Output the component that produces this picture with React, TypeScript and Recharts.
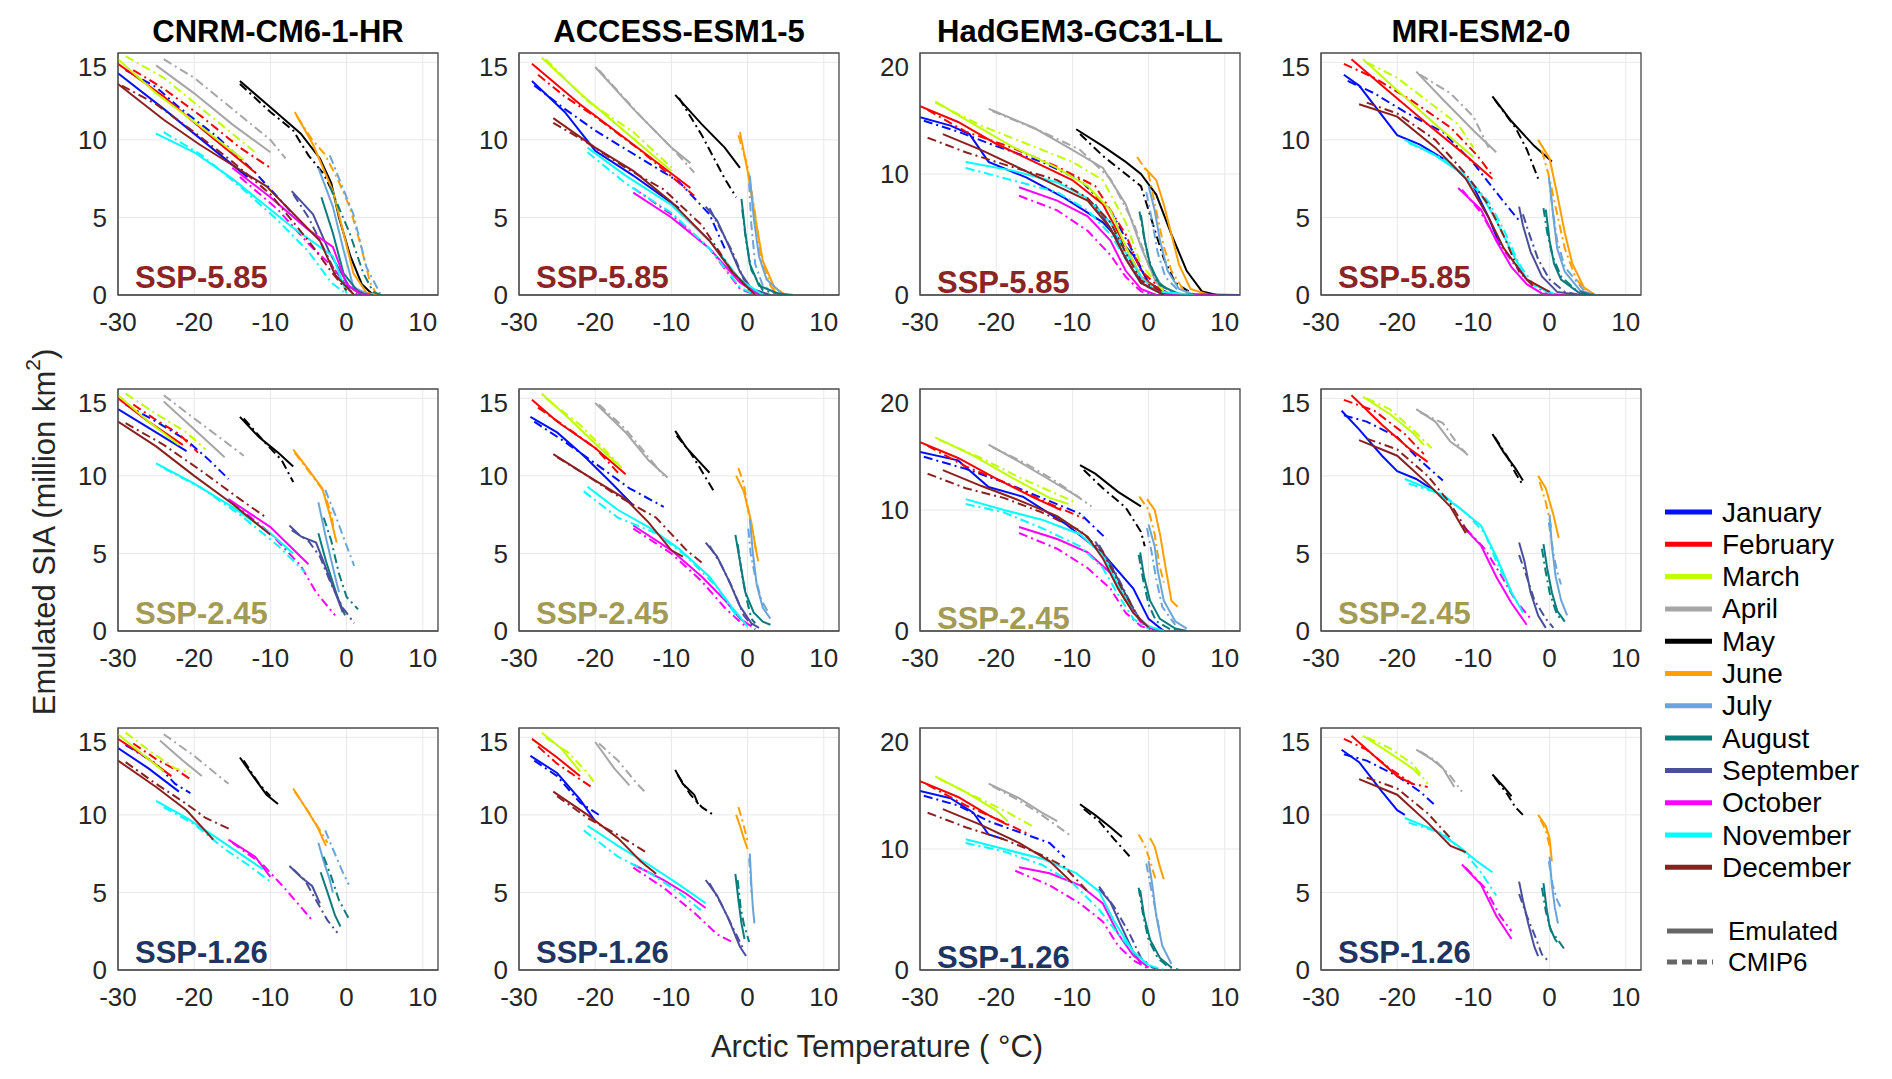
import { CartesianGrid, Line, LineChart, ReferenceArea, XAxis, YAxis } from "recharts"

// months, colours
const MONTHS = ["January", "February", "March", "April", "May", "June", "July", "August", "September", "October", "November", "December"]
const MONTH_COLORS = ["#0010ff", "#ff0000", "#bfff00", "#a6a6a6", "#000000", "#ffa000", "#6aa5d9", "#0b7b7b", "#4a4f9c", "#ff00ff", "#00ffff", "#8b2020"]

const MODELS = ["CNRM-CM6-1-HR", "ACCESS-ESM1-5", "HadGEM3-GC31-LL", "MRI-ESM2-0"]
const SCENARIOS = ["SSP-5.85", "SSP-2.45", "SSP-1.26"]
const SCENARIO_COLORS = ["#8b2525", "#a39a55", "#1f3561"]

const X_TICKS = [-30, -20, -10, 0, 10]
const Y_TICKS = [0, 5, 10, 15]
const Y_TICKS_HAD = [0, 10, 20]

// each curve: [Arctic temperature (°C), SIA (million km²)], months Jan..Dec
const cnrm585Emu = [
  [[-30, 14.3], [-24, 12], [-19, 10], [-13, 7.6]],
  [[-30, 14.9], [-24, 12.8], [-18, 10.3], [-12, 7.9]],
  [[-30, 15.2], [-25, 13], [-19, 10.8], [-13.5, 8.7]],
  [[-25, 14.8], [-20, 13], [-15, 11], [-10, 9.2]],
  [[-14, 13.8], [-10, 12.1], [-6, 10.4], [-3.5, 8.8], [-2, 7.2], [-1, 5], [0.5, 2.5], [2, 0.7], [3.5, 0]],
  [[-6.8, 11.8], [-4.4, 9.7], [-1.8, 6.7], [-0.4, 4], [0.9, 1.4], [2.6, 0.15], [4, 0]],
  [[-3.7, 8.2], [-1.8, 5.7], [-0.4, 2.9], [0.9, 0.5], [3, 0]],
  [[-3.3, 6.3], [-1.8, 4], [-0.4, 1.4], [1.7, 0.1], [3.5, 0]],
  [[-7.2, 6.7], [-4.4, 5.2], [-2.2, 2.7], [0.4, 0.5], [2.6, 0]],
  [[-15, 8.2], [-10, 6.3], [-5, 4.2], [-1.8, 3.1], [0, 0.7], [1.7, 0.1], [3, 0]],
  [[-25, 10.4], [-20, 9.2], [-15, 7.5], [-7.2, 4.4], [-1.8, 2.5], [0, 0.1]],
  [[-30, 13.6], [-24, 11.3], [-19.3, 9.7], [-10.5, 7], [-3.5, 3.5], [-1.5, 1.3], [1, 0]],
]
const cnrm585Cmip = [
  [[-29, 14.5], [-25, 13.4], [-22, 12.1], [-17, 10.2], [-12, 7.9], [-7, 5.2]],
  [[-28, 14.5], [-24, 13.3], [-19, 11.5], [-14, 9.5], [-10, 8.2]],
  [[-29, 15.4], [-24, 14], [-19, 12], [-14, 10], [-12, 9.2]],
  [[-24, 15.2], [-20, 14], [-15, 12], [-10, 10], [-8, 8.8]],
  [[-14, 13.6], [-10, 11.8], [-7, 10.6], [-5, 9], [-3, 7.8], [-2, 6.8]],
  [[-6.5, 11.5], [-4.5, 10], [-2.9, 9.1], [-1.2, 7.5], [0.4, 5.7], [1.7, 3.5], [3.1, 0.8], [4, 0]],
  [[-2.2, 9], [0.9, 5.2], [2.6, 1.8], [4.4, 0.1]],
  [[-2.2, 7], [0.4, 4], [2.2, 1.4], [3.5, 0.2], [4.5, 0]],
  [[-7, 6.5], [-5, 5], [-3, 3], [-1, 1], [2, 0]],
  [[-14, 7.6], [-9, 5.5], [-5, 3.3], [-1.8, 1.8], [0.4, 0.3], [1.5, 0]],
  [[-24, 10.5], [-19, 9], [-14, 7], [-9, 4.8], [-5, 2.8], [-2, 0.8], [-0.4, 0.2]],
  [[-29.5, 13.5], [-25, 12.3], [-20, 10.5], [-15, 8.6], [-10, 6.5], [-5, 3.5], [-2, 1.5], [0, 0.3]],
]

const access585Emu = [
  [[-28.3, 13.8], [-24, 11.8], [-20, 9.3], [-15, 7.7], [-9, 5.6]],
  [[-28.3, 14.9], [-22, 12.3], [-15, 9.7], [-7.5, 6.9]],
  [[-27, 15.3], [-22, 13], [-16, 10.5], [-10, 8]],
  [[-20, 14.7], [-15, 12], [-10, 9.5], [-7.5, 8.5]],
  [[-9.5, 12.9], [-6, 11], [-3, 9.5], [-1, 8.2]],
  [[-1, 10.5], [0, 8], [1, 5], [2, 2.2], [3.5, 0.5], [5, 0]],
  [[0.3, 7.7], [0.8, 5], [1.5, 2.5], [2.5, 1], [4.5, 0.1]],
  [[-0.8, 6.2], [-0.3, 4], [0.3, 2], [1.5, 0.6], [4, 0.1], [6, 0]],
  [[-5.5, 5.7], [-4, 4.8], [-2.5, 3.2], [-1, 1.5], [0.5, 0.4], [3, 0]],
  [[-15, 6.6], [-10, 5], [-5, 3], [-1, 0.8], [1.5, 0]],
  [[-21, 9.5], [-16, 7.7], [-10, 5.8], [-5, 3.5], [-1, 1], [2, 0]],
  [[-25.5, 11.4], [-20, 9.5], [-15, 8], [-10, 6], [-5, 3.5], [-2, 1.5], [1, 0]],
]
const access585Cmip = [
  [[-28, 13.5], [-24, 12], [-20, 10.6], [-14, 8.8], [-9, 7.3], [-5, 5.2], [-3, 3]],
  [[-27.5, 14.2], [-24, 12.8], [-20, 11.5], [-14, 9.3], [-7, 6.4]],
  [[-26.5, 15.2], [-21, 12.5], [-15, 10.5], [-9.5, 8]],
  [[-19.5, 14.5], [-14, 11.5], [-10, 9.5], [-7, 7.9]],
  [[-9, 12.7], [-6, 10.3], [-3, 7.5], [-1.5, 6.3]],
  [[-1.2, 10.3], [0, 8.3], [1, 5.2], [1.7, 2.5], [3, 0.6], [4, 0]],
  [[0.2, 7.2], [0.5, 4.5], [1, 2], [2, 0.6], [4, 0]],
  [[-0.7, 5.5], [-0.2, 3.5], [0.5, 1.6], [2, 0.3], [5, 0]],
  [[-5, 5.6], [-3.5, 4.2], [-2, 2.8], [-0.5, 1], [1, 0.2], [2, 0]],
  [[-15, 6.9], [-10, 5.2], [-5, 3], [-1, 0.4], [1, 0]],
  [[-21, 9.2], [-16, 7.2], [-10, 5.3], [-5, 3], [-1, 0.5], [1, 0]],
  [[-25.5, 11.1], [-21, 9.8], [-16, 8.2], [-11, 6.8], [-6, 4.5], [-2, 1.5], [0.5, 0.2]],
]

const had585Emu = [
  [[-30, 14.7], [-26, 14], [-23.5, 13.3], [-21, 11], [-16, 9.7], [-11, 8], [-6, 6], [-2, 3.3], [0, 1], [3, 0]],
  [[-30, 15.6], [-25, 14.3], [-20, 12.5], [-15, 11], [-10, 9.5], [-6, 7.5], [-3, 4], [-1, 1.5], [2, 0.2], [5, 0]],
  [[-28, 16], [-24, 14.5], [-18, 12.3], [-12, 10.5], [-8, 9], [-5, 7], [-3, 4], [-1, 1.5], [1, 0.3], [4, 0]],
  [[-21, 15.4], [-15, 13.8], [-10, 12], [-6, 10.5], [-3, 7.5], [-1, 4], [1, 1], [4, 0]],
  [[-9.5, 13.7], [-6, 12.3], [-3, 11], [-1, 10], [1, 8.3], [3, 5], [5, 2], [7, 0.3], [9, 0]],
  [[-0.5, 10.5], [1, 9.5], [2, 7.5], [3, 5], [4, 2.5], [5.5, 0.5], [8, 0]],
  [[0, 9], [0.8, 7], [1.5, 4.5], [2.5, 2], [4, 0.5], [6, 0]],
  [[-1, 6.6], [-0.5, 4.5], [0.2, 2.5], [1.5, 0.8], [4, 0.1], [6, 0]],
  [[-7, 7.5], [-5, 5.5], [-3, 3], [-1, 1], [2, 0.1], [12, 0]],
  [[-17, 8.9], [-12, 7.8], [-8, 6.5], [-5, 4.5], [-3, 2], [-1, 0.5], [1, 0], [9, 0]],
  [[-24, 11], [-18, 10.3], [-12, 9.3], [-8, 8], [-5, 6], [-3, 3.5], [-1, 1.5], [1, 0.3], [6, 0]],
  [[-27, 13.3], [-22, 12], [-17, 10.5], [-12, 9], [-8, 7.8], [-5, 5.5], [-3, 3], [-1, 1], [2, 0]],
]
const had585Cmip = [
  [[-29.5, 14.4], [-25, 13.5], [-20, 12.3], [-14, 11], [-9, 9.5], [-5, 7], [-2, 3.5], [0, 1], [3, 0]],
  [[-29, 15.3], [-24, 13.5], [-18, 12.2], [-12, 10.6], [-7, 9], [-3, 5], [-1, 2], [2, 0.3]],
  [[-28, 15.9], [-22, 14], [-16, 12.5], [-10, 11], [-6, 9.5], [-3, 6], [-1, 2.5], [2, 0.3]],
  [[-20.5, 15.2], [-14, 13.5], [-9, 12], [-5, 9.6], [-2, 6], [0, 2.5], [2, 0.5]],
  [[-9, 13.3], [-6, 11.5], [-3, 10], [-1, 9], [0.5, 6], [2, 3], [3.5, 1], [6, 0]],
  [[-1.5, 11.4], [0, 10], [1, 7], [2, 4], [3, 2], [4.5, 0.5], [6, 0]],
  [[-0.3, 8.5], [0.5, 6], [1.2, 3.5], [2.2, 1.5], [4, 0.3]],
  [[-1.2, 6.9], [-0.6, 4.8], [0, 3], [1, 1.2], [3, 0.2]],
  [[-7, 7.3], [-4.5, 5], [-2.5, 2.5], [-0.5, 0.8], [2, 0]],
  [[-17, 8.2], [-12, 7], [-8, 5.3], [-5, 3.3], [-3, 1.5], [-1, 0.3], [1, 0]],
  [[-24, 10.5], [-18, 9.5], [-12, 8.5], [-8, 7], [-5, 5], [-3, 3], [-1, 1], [2, 0]],
  [[-29, 13], [-24, 11.8], [-18, 10.6], [-12, 9.5], [-8, 8], [-5, 6], [-3, 3.5], [-1, 1.2], [2, 0.2]],
]

const mri585Emu = [
  [[-27, 14.2], [-25, 13.5], [-20, 10.3], [-17, 9.7], [-13, 8.5], [-10, 7], [-8, 5], [-6.5, 3.2]],
  [[-26, 15.2], [-22, 13.5], [-16, 11], [-11, 9], [-7.5, 7.5]],
  [[-24.5, 15.2], [-20, 13.2], [-15, 11], [-10, 8.9]],
  [[-17.5, 14.4], [-14, 12.6], [-10, 10.6], [-7, 9.2]],
  [[-7.5, 12.8], [-5, 11.2], [-2, 9.6], [0.3, 8.6]],
  [[-1.5, 10], [0, 8.8], [1, 6.5], [2, 4], [3, 2], [4.5, 0.5], [6, 0]],
  [[0, 7.3], [0.5, 5], [1, 3], [2, 1.5], [4, 0.3], [6, 0]],
  [[-0.5, 5.5], [0, 3.5], [0.6, 2], [1.5, 1], [4, 0.1], [6, 0]],
  [[-4, 5.7], [-3.5, 4.5], [-2.5, 2.8], [-1, 1.2], [1, 0.2], [4, 0]],
  [[-12, 6.9], [-9, 5.5], [-7, 3.5], [-5, 1.8], [-3, 0.7], [-1, 0.1], [2, 0]],
  [[-19, 10], [-15, 9], [-12, 8], [-9, 6.5], [-7, 4.8], [-5, 2.8], [-3, 1], [0, 0.1]],
  [[-25, 12.3], [-20, 11.5], [-15, 9.5], [-11, 7.5], [-8, 5], [-6, 3], [-3, 1], [0, 0.2]],
]
const mri585Cmip = [
  [[-26.5, 13.8], [-23, 13], [-19, 11.8], [-14, 10.5], [-10, 8.5], [-6, 6], [-4, 4.8]],
  [[-27, 14.9], [-23, 14], [-18, 12.5], [-13, 10.8], [-9.5, 9], [-7.5, 7.7]],
  [[-24, 15], [-20, 14], [-16, 12.5], [-12, 11], [-10, 9.5]],
  [[-17, 14.2], [-13, 13], [-10, 11.5], [-8, 9.5]],
  [[-7.2, 12.6], [-4.5, 10.8], [-3, 9.4], [-1.5, 7.5]],
  [[-1, 9.3], [0, 7.5], [1, 5.2], [2, 3], [3.5, 1], [5, 0.2]],
  [[-0.1, 7.6], [0.4, 5.5], [1, 3.5], [2, 1.8], [4.5, 0.3]],
  [[-0.8, 5.6], [-0.3, 4], [0.4, 2.5], [1.5, 1.2], [3.5, 0.3], [5.5, 0]],
  [[-3.5, 5.2], [-2.5, 3.7], [-1.5, 2.3], [0, 1], [2, 0.2], [4, 0]],
  [[-11.5, 6.8], [-9, 5.3], [-7, 3.6], [-5, 2.2], [-3, 1], [-1, 0.3], [1, 0]],
  [[-18.5, 9.8], [-14, 8.8], [-11, 7.7], [-8, 6], [-6, 4.2], [-4, 2], [-2, 0.6], [1, 0]],
  [[-24, 12.4], [-20, 11.7], [-15, 10], [-11, 7.8], [-8, 5.8], [-6, 3.8], [-4, 1.5], [-2, 0.5]],
]

const cnrm245Emu = [
  [[-30, 14.3], [-25, 12.8], [-21, 11.6]],
  [[-30, 15], [-26, 13.5], [-21.5, 12]],
  [[-30, 15.2], [-26, 13.5], [-22, 12]],
  [[-24, 14.8], [-20, 13], [-16, 11.2]],
  [[-14, 13.8], [-11.5, 12.5], [-9, 11.5], [-7, 10.6]],
  [[-7, 11.7], [-5, 10.4], [-3.2, 9.2], [-2.2, 7.5], [-1.3, 5.7]],
  [[-3.7, 8.3], [-2.7, 6], [-1.5, 3.5], [-1, 2.5]],
  [[-3.7, 6.3], [-2.7, 4.5], [-1.2, 2.2], [-0.2, 1]],
  [[-7.5, 6.8], [-6, 6.1], [-4, 5.7], [-2.5, 3.8], [-1.5, 2.5], [-0.5, 1.2]],
  [[-15.5, 8.5], [-10, 6.7], [-5, 4.3]],
  [[-25, 10.8], [-20, 9.5], [-15, 8], [-10, 6.3], [-7, 5]],
  [[-30, 13.5], [-25, 11.9], [-20, 10], [-15, 8.2], [-10, 6.2]],
]
const cnrm245Cmip = [
  [[-29, 14.6], [-25, 13.5], [-21, 12.3], [-18, 11], [-15.5, 9.8]],
  [[-28, 14.6], [-25, 13.6], [-22, 12.7], [-19.5, 11.5]],
  [[-29, 15.3], [-25, 14], [-21, 12.8], [-18.5, 11.7]],
  [[-24, 15.2], [-20, 13.7], [-17, 12.6], [-13.5, 11.3]],
  [[-13.5, 13.7], [-11, 12.3], [-8.5, 11], [-7, 9.6]],
  [[-6.8, 11.5], [-4.5, 10], [-3, 9], [-2, 7.5], [-1.5, 6]],
  [[-2.8, 9.1], [-1.5, 7.5], [0, 5.5], [1, 4.2]],
  [[-3, 7.3], [-2, 5.8], [-1, 3.7], [0, 2.2], [1.5, 1.4]],
  [[-7.2, 6.5], [-5, 5.8], [-3.5, 4.8], [-2, 3], [-0.5, 1.5], [1, 0.5]],
  [[-15, 8.3], [-10, 6.3], [-6, 4.2], [-4, 2.5], [-1.5, 1]],
  [[-24, 10.5], [-19, 9.2], [-14, 7.5], [-9, 5.5], [-5.5, 3.8]],
  [[-29, 13.4], [-24, 12], [-19, 10.3], [-14, 8.5], [-10.5, 7.3]],
]

const access245Emu = [
  [[-28.5, 13.8], [-25, 12.8], [-21.5, 11.3], [-18, 9.6], [-15, 8.1]],
  [[-28.3, 14.9], [-25, 13.5], [-20, 11.8], [-16, 10.1]],
  [[-27, 15.3], [-23, 13.5], [-19, 11.6], [-16.5, 10.5]],
  [[-20, 14.7], [-16, 12.8], [-13, 11], [-10.5, 9.9]],
  [[-9.5, 12.9], [-8, 11.8], [-6.5, 11], [-5, 10.2]],
  [[-1.5, 10], [-0.5, 9], [0.5, 7], [1, 5.5], [1.4, 4.5]],
  [[0.3, 7.2], [0.7, 5], [1.2, 3], [2, 1.5], [3, 0.8]],
  [[-1.6, 6.2], [-1, 4.5], [-0.3, 2.5], [0.8, 1.2], [2, 0.6], [3, 0.4]],
  [[-5.5, 5.7], [-4, 4.8], [-2.5, 3.3], [-1, 1.6], [0.5, 0.5], [1.5, 0.2]],
  [[-15, 6.8], [-10, 5.2], [-6, 3.5], [-3, 2], [-1, 0.8], [0.5, 0.3]],
  [[-21, 9.3], [-17, 7.8], [-13, 6.7], [-9, 5.3], [-5, 3.5], [-2, 1.5], [0, 0.3]],
  [[-25.5, 11.4], [-21, 10], [-16, 8.5], [-13, 7], [-10, 5.2], [-8.5, 4.8]],
]
const access245Cmip = [
  [[-28, 13.5], [-24, 12.2], [-20, 10.8], [-15.5, 9.2], [-11, 8]],
  [[-27.5, 14.4], [-24, 13.2], [-20, 11.8], [-17, 10.2]],
  [[-26.5, 15], [-22, 13.3], [-19, 11.8], [-17, 10.8]],
  [[-19.5, 14.6], [-16, 13], [-13.5, 11.5], [-11, 10]],
  [[-9.3, 12.6], [-7.5, 11.5], [-6, 10.3], [-4.3, 8.9]],
  [[-1.2, 10.5], [-0.5, 9.5], [0, 8], [0.8, 6], [1.2, 5]],
  [[0.1, 6.6], [0.4, 5], [1, 3.5], [1.8, 2], [2.6, 1.3]],
  [[-1.3, 5.6], [-0.7, 3.5], [0, 1.8], [0.5, 0.8], [1, 0.5]],
  [[-5, 5.5], [-3.5, 4.3], [-2, 2.8], [-0.5, 1], [1, 0.1]],
  [[-15, 6.6], [-10, 5], [-6, 3.2], [-3, 1.5], [-1, 0.6], [0, 0.2]],
  [[-21.5, 9], [-17, 7.3], [-12, 6.3], [-8, 4.8], [-4, 2.8], [-1.5, 1]],
  [[-25, 11.2], [-21, 10], [-17, 8.7], [-12, 7.3], [-8, 5.2], [-6, 4.4]],
]

const had245Emu = [
  [[-30, 14.8], [-25, 14.1], [-21, 11.9], [-16.5, 11.1], [-11, 8.9], [-6, 6.4], [-2, 3.5], [0, 1], [2, 0]],
  [[-30, 15.6], [-25, 14.3], [-20, 12.6], [-15, 11], [-11.5, 10]],
  [[-28, 16], [-23, 14.5], [-18, 12.7], [-13, 11], [-10.5, 10.5]],
  [[-21, 15.4], [-17, 14], [-13, 12.5], [-9, 11]],
  [[-9, 13.7], [-7, 13], [-4, 11.5], [-1, 10.3]],
  [[-0.2, 10.9], [0.8, 10], [1.5, 8], [2.3, 5], [3, 2.5], [3.8, 2]],
  [[0, 8.8], [0.8, 7], [1.2, 5], [2, 2.5], [3.5, 0.8], [5, 0.2]],
  [[-1.1, 6.5], [-0.6, 4.5], [0.2, 2.5], [1.5, 1], [3.5, 0.2], [5, 0]],
  [[-7, 7.4], [-5, 5.5], [-3, 3], [-1.5, 1.2], [0, 0.3], [2, 0]],
  [[-17, 8.6], [-12, 7.6], [-8, 6.5], [-5, 4.8], [-3, 2.5], [-1, 0.7], [1, 0.1]],
  [[-24, 10.9], [-19, 10], [-14, 9.2], [-9, 8], [-6, 6.3], [-4, 3.8], [-2, 1.5], [0, 0.4], [2, 0]],
  [[-27, 13.3], [-22, 12], [-17, 10.8], [-12, 9.5], [-8, 7.8], [-6, 6], [-4, 3.5], [-2, 1.5], [0, 0.3]],
]
const had245Cmip = [
  [[-29.5, 14.4], [-24, 13.4], [-19, 12.3], [-14, 11], [-9, 9.7], [-5.5, 7.6]],
  [[-29, 15.3], [-24, 13.6], [-19, 12.3], [-14, 10.8], [-8.5, 9.3]],
  [[-27.5, 15.8], [-22, 14.3], [-17, 12.7], [-12, 11.3], [-9.5, 10.6]],
  [[-20.5, 15.2], [-16, 13.8], [-12, 12.3], [-7.5, 10.3]],
  [[-8.5, 13.3], [-6, 11.8], [-3, 10.2], [-1, 8.2], [-0.5, 7]],
  [[-1.2, 11.1], [0, 10], [0.8, 8], [1.4, 5.5], [2, 4]],
  [[-0.2, 8.5], [0.4, 6.5], [1, 4.3], [1.8, 2], [3.5, 0.5]],
  [[-1.3, 6.3], [-0.7, 4.2], [0, 2.2], [1, 0.8], [3, 0.1], [5, 0]],
  [[-6.5, 7.1], [-4.5, 5], [-2.5, 2.5], [-1, 0.7], [1, 0]],
  [[-17, 8.1], [-12, 6.8], [-8, 5.2], [-5, 3.5], [-3, 1.5], [-1, 0.4], [1, 0]],
  [[-24, 10.5], [-19, 9.8], [-14, 8.5], [-9, 7], [-6, 5.2], [-4, 3], [-2, 1], [0, 0.2]],
  [[-29, 13], [-24, 11.8], [-19, 11], [-14, 9.8], [-9, 8.3], [-6, 6.5], [-3.5, 3.5], [-1, 0.8]],
]

const mri245Emu = [
  [[-27.3, 14.2], [-25, 13], [-22, 11.3], [-20, 10.3], [-17.5, 9.8], [-15, 9]],
  [[-26, 15.2], [-22, 13.3], [-18.5, 11.8], [-16, 10.9]],
  [[-24.5, 15.1], [-21, 14], [-18, 12.8], [-16.5, 12]],
  [[-17.5, 14.3], [-15, 13.5], [-13, 12.2], [-11, 11.5]],
  [[-7.5, 12.7], [-6, 11.5], [-4.5, 10.5], [-3.5, 9.7]],
  [[-1.5, 10], [-0.5, 9.2], [0.5, 7.5], [1.2, 6]],
  [[0, 7.5], [0.3, 5.5], [0.8, 3.5], [1.5, 2], [2.3, 1]],
  [[-0.8, 5.6], [-0.3, 4], [0.3, 2.5], [1, 1.3], [2, 0.6]],
  [[-4, 5.7], [-3.3, 4.5], [-2.5, 2.5], [-1.5, 1], [-0.5, 0.2]],
  [[-11.5, 6.8], [-9, 5.5], [-7, 3.5], [-5, 1.8], [-3, 0.4]],
  [[-19, 9.8], [-15, 9], [-12, 8], [-9, 6.8], [-7, 4.8], [-5, 2.5], [-3.5, 1.2]],
  [[-25, 12.3], [-20, 11.3], [-16, 9.5], [-13, 8], [-11, 6.3]],
]
const mri245Cmip = [
  [[-27, 13.9], [-24, 13.5], [-20, 12.5], [-17, 11], [-14, 9.7]],
  [[-27, 14.9], [-23, 14.2], [-19, 12.7], [-16.5, 11.4]],
  [[-24, 15], [-21, 14.3], [-18, 13], [-15.5, 11.8]],
  [[-17, 14.1], [-14, 13.4], [-12, 12], [-10.5, 11.2]],
  [[-7.2, 12.5], [-5.5, 11.2], [-4.5, 10.2], [-3.5, 9.4]],
  [[-1.3, 9.6], [-0.5, 8.3], [0.3, 6.5]],
  [[-0.1, 7], [0.5, 5], [1, 3.8], [1.5, 3]],
  [[-1, 5.3], [-0.5, 3.8], [0, 2.5], [1, 1], [1.8, 0.7]],
  [[-4, 4.9], [-3, 3.5], [-2, 2], [-0.5, 0.8], [0.5, 0.2]],
  [[-11, 6.6], [-8.5, 5.3], [-6.5, 3.7], [-4.5, 2], [-2.5, 0.8]],
  [[-18.5, 9.5], [-14, 8.8], [-11, 7.6], [-8.5, 6.3], [-7, 4.5], [-5, 2.5]],
  [[-24, 12.4], [-20, 11.7], [-16, 10], [-13, 8.2], [-10.5, 6.2]],
]

const cnrm126Emu = [
  [[-30, 14.3], [-26, 13], [-22, 11.5]],
  [[-30, 14.9], [-26, 13.6], [-23, 12.5]],
  [[-30, 15.2], [-26.5, 13.8], [-24, 12.8]],
  [[-24.5, 14.8], [-21.5, 13.5], [-19, 12.5]],
  [[-14, 13.7], [-12, 12.3], [-10.5, 11.3], [-9, 10.7]],
  [[-7, 11.7], [-5.3, 10.4], [-3.8, 9.2], [-2.7, 8]],
  [[-3.7, 8.2], [-3, 7], [-2.2, 5.8], [-1.8, 5]],
  [[-3.4, 6.3], [-2.5, 5], [-1.5, 3.5], [-0.8, 2.8]],
  [[-7.5, 6.7], [-6, 6], [-4.5, 5.4], [-3.5, 4.3]],
  [[-15.5, 8.4], [-12, 7.3], [-10, 6]],
  [[-25, 10.9], [-21, 9.8], [-17, 8.5], [-14, 7.5], [-11, 6.5]],
  [[-30, 13.5], [-25, 11.8], [-21, 10.3], [-17.5, 8.4]],
]
const cnrm126Cmip = [
  [[-29, 14.5], [-25, 13.3], [-22.5, 12], [-20.5, 11.4]],
  [[-28, 14.6], [-25, 13.6], [-22, 12.8], [-20.5, 12.3]],
  [[-29, 15.3], [-25.5, 14], [-22.5, 13], [-20.5, 12.7]],
  [[-24, 15.2], [-20, 13.8], [-17.5, 12.8], [-15.5, 12]],
  [[-13.5, 13.5], [-11.5, 12], [-10, 11.2]],
  [[-6.8, 11.5], [-5, 10.2], [-3.5, 9], [-2.5, 8.2]],
  [[-2.8, 9], [-1.8, 7.8], [-0.5, 6.3], [0.3, 5.5]],
  [[-3, 7.3], [-2, 6], [-1, 4.5], [0.3, 3.3]],
  [[-7, 6.5], [-5.5, 5.8], [-4, 4.5], [-2.5, 3.2], [-1.2, 2.4]],
  [[-15, 8.2], [-11, 6.8], [-8, 5.2], [-4.5, 3.2]],
  [[-24, 10.5], [-20, 9.4], [-16, 7.8], [-13, 6.8], [-10, 5.7]],
  [[-29, 13.4], [-25, 12], [-21, 10.7], [-18.5, 9.8], [-15, 9]],
]

const access126Emu = [
  [[-28.5, 13.8], [-25, 12.7], [-22, 11], [-20, 9.6]],
  [[-28.3, 14.9], [-25, 13.7], [-22, 12.5]],
  [[-27, 15.3], [-24.5, 14.3], [-22, 12.8]],
  [[-20, 14.7], [-17.5, 13], [-15.5, 11.9]],
  [[-9.5, 12.9], [-8.5, 12], [-7, 11.3], [-6.5, 10.7]],
  [[-1.5, 10], [-1, 9.3], [-0.5, 8.5], [0, 7.8]],
  [[0.3, 7.5], [0.5, 5.5], [0.7, 4], [0.9, 3]],
  [[-1.6, 6.2], [-1.2, 4.5], [-0.8, 3], [-0.4, 2]],
  [[-5.5, 5.8], [-4, 4.8], [-2.5, 3.3], [-1, 1.5], [-0.2, 0.9]],
  [[-15, 6.8], [-11, 5.8], [-8, 4.9], [-5.5, 4]],
  [[-21, 9.3], [-17, 8], [-13, 6.8], [-9, 5.5], [-5.5, 4.3]],
  [[-25.5, 11.5], [-21, 10], [-17, 8.5], [-14, 7], [-12, 6.2]],
]
const access126Cmip = [
  [[-28, 13.5], [-25, 12.5], [-22, 10.8], [-19.5, 10]],
  [[-27.5, 14.4], [-25, 13.3], [-22, 12.3], [-20.5, 11.8]],
  [[-26.5, 15], [-23.5, 14], [-21, 12.7], [-20, 12]],
  [[-19.5, 14.6], [-17, 13.5], [-14.5, 12], [-13.5, 11.5]],
  [[-9.2, 12.6], [-7.5, 11.3], [-6, 10.5], [-4.5, 10]],
  [[-1.2, 10.5], [-0.6, 9.5], [0, 8.3]],
  [[0.2, 7.2], [0.4, 6], [0.5, 5]],
  [[-1.3, 5.8], [-0.9, 4], [-0.5, 3], [0.2, 1.8]],
  [[-5, 5.6], [-3.5, 4.3], [-2, 2.8], [-0.5, 1.3]],
  [[-15, 6.6], [-11, 5.3], [-7, 3.7], [-4, 2.3], [-2, 1.8]],
  [[-21.5, 9], [-17, 7.3], [-13, 6.3], [-9, 5], [-6, 3.8]],
  [[-25, 11.2], [-21, 9.8], [-17, 8.7], [-13, 7.5]],
]

const had126Emu = [
  [[-30, 14.8], [-26, 14.2], [-23, 13], [-21, 11.2], [-19, 10.8]],
  [[-30, 15.6], [-25, 14.3], [-21, 12.8], [-18.5, 12]],
  [[-28, 16], [-24, 14.7], [-20, 13.2], [-18.5, 12.3]],
  [[-21, 15.4], [-17, 14.2], [-14, 13], [-12, 12.3]],
  [[-9, 13.7], [-7, 12.8], [-5, 11.8], [-3.5, 11]],
  [[0.2, 10.9], [0.8, 10.2], [1.5, 8.5], [2, 7.5]],
  [[0, 9], [0.5, 7], [1, 4.5], [1.8, 2], [3, 0.5]],
  [[-1.1, 6.6], [-0.6, 4.5], [0.2, 2.5], [1.5, 1], [3, 0.2]],
  [[-6.5, 6.7], [-5, 5.6], [-3.5, 3.5], [-2, 1.5], [-1, 0.5]],
  [[-17, 8.5], [-13, 8], [-9, 7], [-6, 5.5], [-4, 3], [-2, 1.2], [0, 0.2]],
  [[-24, 10.8], [-19, 10], [-14, 9.2], [-9.5, 8], [-6.5, 6.5], [-4.5, 4], [-2, 1.5], [0, 0.4]],
  [[-27, 13.3], [-22, 12], [-17, 10.5], [-13, 9], [-10, 7.2]],
]
const had126Cmip = [
  [[-29.5, 14.4], [-25, 13.6], [-21, 12.3], [-17, 11.4], [-13, 10.5], [-11, 9.3]],
  [[-29, 15.3], [-24, 13.6], [-20, 12.5], [-16, 11.3]],
  [[-27.5, 15.8], [-23, 14.4], [-19, 13.2], [-15, 11.8]],
  [[-20.5, 15.2], [-17, 14], [-14, 12.8], [-10, 11]],
  [[-8.5, 13.3], [-6.5, 12.3], [-4.5, 10.8], [-2.5, 9.4]],
  [[-1.3, 11.2], [-0.5, 10.3], [0.3, 8.8], [1, 7.3]],
  [[-0.3, 8.8], [0.4, 6.5], [0.9, 5], [1.5, 3]],
  [[-1.3, 6.8], [-0.7, 4.5], [0, 2.5], [1.2, 1], [2.5, 0.3], [4, 0]],
  [[-6.5, 6.9], [-4.5, 5.2], [-2.5, 3], [-1, 1], [0.5, 0.2], [2, 0]],
  [[-17.5, 8.2], [-13, 7], [-9, 5.5], [-6, 4], [-4, 2], [-2, 0.8], [0, 0.1]],
  [[-24, 10.5], [-19, 9.8], [-14, 8.7], [-10, 7.2], [-6.5, 5], [-4, 3], [-2, 1.5], [0, 0.4], [2, 0]],
  [[-29, 13], [-24, 11.8], [-19, 10.8], [-14, 9.5], [-11, 8.5], [-8, 6.5]],
]

const mri126Emu = [
  [[-27.3, 14.2], [-25, 13.4], [-22, 11.5], [-20, 10.3], [-19, 10]],
  [[-26, 15.1], [-23, 13.8], [-20, 12.5], [-18, 12]],
  [[-24.5, 15.1], [-21, 14], [-18, 13], [-17, 12.5]],
  [[-17.5, 14.2], [-15.5, 13.6], [-14, 13], [-12.5, 11.8]],
  [[-7.5, 12.6], [-6, 11.8], [-5, 11.2]],
  [[-1.5, 10], [-0.5, 9.3], [0, 8.5], [0.3, 7]],
  [[0, 7.3], [0.3, 5.5], [0.7, 4], [1.1, 3]],
  [[-0.8, 5.6], [-0.4, 4], [0, 2.8], [0.7, 2], [1, 1.8]],
  [[-4, 5.7], [-3.5, 4.5], [-2.8, 3], [-2, 1.5], [-1.5, 0.9]],
  [[-11.5, 6.8], [-9, 5.5], [-7, 3.5], [-5, 2]],
  [[-19, 9.8], [-15, 9], [-12, 8], [-9.5, 7], [-7.5, 6.3]],
  [[-25, 12.3], [-20, 11.3], [-16, 9.5], [-13, 8], [-11, 7.6]],
]
const mri126Cmip = [
  [[-27, 13.9], [-24, 13.5], [-20, 12.5], [-17, 11.5], [-15, 10.6]],
  [[-27, 14.9], [-24, 14.2], [-21, 13], [-18, 12], [-16, 11.8]],
  [[-24, 15], [-21, 14.3], [-18, 13.3], [-16, 12]],
  [[-17, 14.1], [-15, 13.5], [-13, 12.5], [-11.5, 11.5]],
  [[-7.2, 12.4], [-5.5, 11.3], [-4.5, 10.5], [-3.5, 10]],
  [[-1.2, 9.7], [-0.5, 9], [0, 8]],
  [[-0.1, 7], [0.4, 5.5], [1, 4.5], [1.5, 4]],
  [[-1, 5.3], [-0.5, 3.8], [0.2, 2.5], [1, 2], [2, 1.3]],
  [[-4, 4.9], [-3, 3.5], [-2, 2.3], [-1, 1], [0, 0.5]],
  [[-11, 6.6], [-8.5, 5.3], [-6.5, 3.5], [-5, 2.5]],
  [[-18.5, 9.5], [-14, 8.8], [-11, 7.5], [-9, 6.3], [-7, 4.8]],
  [[-24, 12.4], [-20, 11.7], [-16, 10.1], [-13, 8.5]],
]

// rows: scenarios, columns: models
const PANEL_DATA = [
  [[cnrm585Emu, cnrm585Cmip], [access585Emu, access585Cmip], [had585Emu, had585Cmip], [mri585Emu, mri585Cmip]],
  [[cnrm245Emu, cnrm245Cmip], [access245Emu, access245Cmip], [had245Emu, had245Cmip], [mri245Emu, mri245Cmip]],
  [[cnrm126Emu, cnrm126Cmip], [access126Emu, access126Cmip], [had126Emu, had126Cmip], [mri126Emu, mri126Cmip]],
]

const FONT = "'Liberation Sans', Arial, Helvetica, sans-serif"
const COL_LEFT = [118, 519, 920, 1321]
const ROW_TOP = [53, 389, 728]
const PLOT_W = 320
const PLOT_H = 242
const Y_AXIS_W = 62
const X_AXIS_H = 50
const DASH_DOT = "9 4 2 4"

const toPoints = (curve: number[][]) => curve.map(([t, sia]) => ({ t, sia }))

function Panel({ row, col }: { row: number; col: number }) {
  const [emu, cmip] = PANEL_DATA[row][col]
  const had = col === 2
  const yMax = had ? 20 : 15.6
  return (
    <div style={{ position: "absolute", left: COL_LEFT[col] - Y_AXIS_W, top: ROW_TOP[row] - 1 }}>
      <LineChart
        width={Y_AXIS_W + PLOT_W + 1}
        height={PLOT_H + X_AXIS_H + 1}
        margin={{ top: 1, right: 1, left: 0, bottom: 0 }}
      >
        <CartesianGrid stroke="#e8e8e8" strokeWidth={1} />
        <XAxis
          type="number"
          dataKey="t"
          domain={[-30, 12]}
          ticks={X_TICKS}
          allowDataOverflow
          height={X_AXIS_H}
          tickLine={false}
          tickSize={8}
          tickMargin={10}
          stroke="#4d4d4d"
          tick={{ fill: "#262626", fontSize: 26, fontFamily: FONT }}
        />
        <YAxis
          type="number"
          domain={[0, yMax]}
          ticks={had ? Y_TICKS_HAD : Y_TICKS}
          allowDataOverflow
          width={Y_AXIS_W}
          tickLine={false}
          tickSize={8}
          tickMargin={3}
          stroke="#4d4d4d"
          tick={{ fill: "#262626", fontSize: 26, fontFamily: FONT }}
        />
        <ReferenceArea x1={-30} x2={12} y1={0} y2={yMax} fill="none" stroke="#4d4d4d" strokeWidth={1.3} />
        {MONTHS.map((m, i) => [
          <Line
            key={`e-${m}`}
            data={toPoints(emu[i])}
            dataKey="sia"
            type="linear"
            stroke={MONTH_COLORS[i]}
            strokeWidth={2}
            dot={false}
            activeDot={false}
            isAnimationActive={false}
          />,
          <Line
            key={`c-${m}`}
            data={toPoints(cmip[i])}
            dataKey="sia"
            type="linear"
            stroke={MONTH_COLORS[i]}
            strokeWidth={2}
            strokeDasharray={DASH_DOT}
            dot={false}
            activeDot={false}
            isAnimationActive={false}
          />,
        ])}
      </LineChart>
    </div>
  )
}

export default function App() {
  const legendTop = 512
  const legendStep = 32.3
  return (
    <div style={{ position: "absolute", left: 0, top: 0, width: 1892, height: 1079, background: "#fff", fontFamily: FONT }}>
      {SCENARIOS.map((_, r) => MODELS.map((__, c) => <Panel key={`${r}-${c}`} row={r} col={c} />))}
      <svg width={1892} height={1079} style={{ position: "absolute", left: 0, top: 0, pointerEvents: "none" }} fontFamily={FONT}>
        {MODELS.map((m, c) => (
          <text key={m} x={COL_LEFT[c] + PLOT_W / 2} y={42} textAnchor="middle" fontSize={31} fontWeight="bold" fill="#000">
            {m}
          </text>
        ))}
        {SCENARIOS.map((s, r) =>
          MODELS.map((m, c) => (
            <text
              key={`${s}-${m}`}
              x={COL_LEFT[c] + 17}
              y={ROW_TOP[r] + PLOT_H - (c === 2 ? 2 : 7)}
              fontSize={31}
              fontWeight="bold"
              fill={SCENARIO_COLORS[r]}
            >
              {s}
            </text>
          ))
        )}
        <text x={877} y={1046} textAnchor="middle" dominantBaseline="central" fontSize={31} fill="#262626">
          Arctic Temperature ( °C)
        </text>
        <text
          transform="translate(44 532) rotate(-90)"
          textAnchor="middle"
          dominantBaseline="central"
          fontSize={31}
          fill="#262626"
        >
          Emulated SIA (million km<tspan dy={-12} fontSize={21}>2</tspan><tspan dy={12}>)</tspan>
        </text>
        {MONTHS.map((m, i) => (
          <g key={m}>
            <line x1={1665} x2={1712} y1={legendTop + i * legendStep} y2={legendTop + i * legendStep} stroke={MONTH_COLORS[i]} strokeWidth={5} />
            <text x={1722} y={legendTop + i * legendStep} dominantBaseline="central" fontSize={28} fill="#000">
              {m}
            </text>
          </g>
        ))}
        <line x1={1667} x2={1713} y1={931} y2={931} stroke="#666" strokeWidth={5} />
        <text x={1728} y={931} dominantBaseline="central" fontSize={26} fill="#000">Emulated</text>
        <line x1={1667} x2={1713} y1={962} y2={962} stroke="#666" strokeWidth={5} strokeDasharray="10 5" />
        <text x={1728} y={962} dominantBaseline="central" fontSize={26} fill="#000">CMIP6</text>
      </svg>
    </div>
  )
}
